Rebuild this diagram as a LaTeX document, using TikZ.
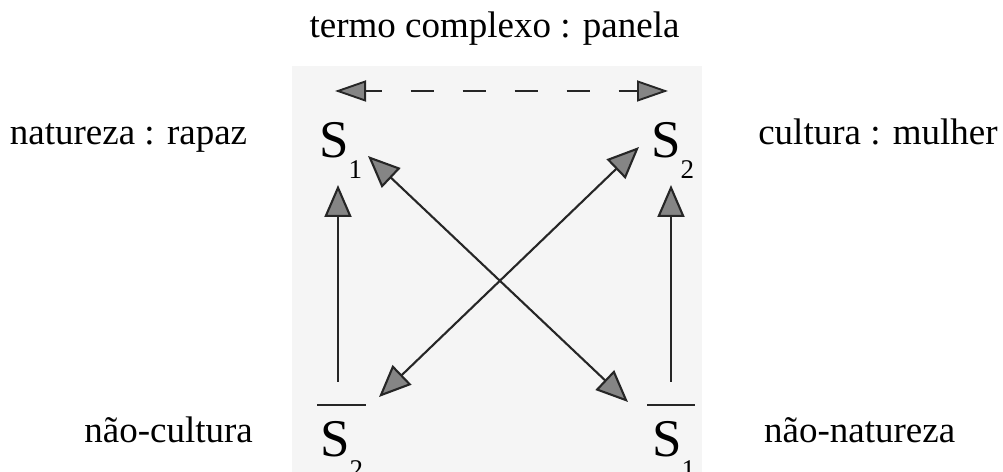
\documentclass[tikz,border=0pt]{standalone}
\usepackage{fontspec}
\setmainfont{Liberation Serif}
\usetikzlibrary{arrows.meta}
\newcommand{\lowsub}[2]{\raisebox{#1}{\fontsize{27bp}{30bp}\selectfont #2}}
\tikzset{
  lbl/.style={inner sep=0pt, font=\fontsize{37bp}{44bp}\selectfont},
  sym/.style={inner sep=0pt, anchor=base west, font=\fontsize{53bp}{60bp}\selectfont},
  tipbig/.tip={Triangle[length=32bp,width=27bp,fill=black!48]},
  tipdash/.tip={Triangle[length=31bp,width=21bp,fill=black!48]},
  conn/.style={line width=2.1bp, draw=black!85, -tipbig},
  conn2/.style={line width=2.1bp, draw=black!85, tipbig-tipbig},
  dashconn/.style={line width=1.9bp, draw=black!85, tipdash-tipdash, dash pattern=on 23bp off 29bp, dash phase=7bp},
  bar/.style={line width=1.8bp, draw=black!85},
  scan/.style={fill=black!4, draw=none}
}
\begin{document}
\begin{tikzpicture}[x=1bp,y=-1bp]
\useasboundingbox (0,0) rectangle (1003,472);
\fill[scan] (292,66) rectangle (702,472);
% labels
\node[lbl, anchor=base] (top) at (494.5,38) {termo complexo : panela};
\node[lbl, anchor=base] (nat) at (128.5,145) {natureza : rapaz};
\node[lbl, anchor=base] (cul) at (878,145) {cultura : mulher};
\node[lbl, anchor=base east] (ncul) at (253,442) {não-cultura};
\node[lbl, anchor=base west] (nnat) at (764,442) {não-natureza};
% symbols
\node[sym] (S1) at (319,158) {S\lowsub{-21bp}{1}};
\node[sym] (S2) at (651,158) {S\lowsub{-21bp}{2}};
\node[sym] (nS2) at (320,456) {S\lowsub{-22bp}{2}};
\node[sym] (nS1) at (652,456) {S\lowsub{-22bp}{1}};
% overlines
\draw[bar] ([shift={(-3,-51)}]nS2.base west) -- ([shift={(46,-51)}]nS2.base west);
\draw[bar] ([shift={(-5,-51)}]nS1.base west) -- ([shift={(43,-51)}]nS1.base west);
% connectors
\draw[dashconn] ([shift={(16,-67)}]S1.base west) -- ([shift={(17,-67)}]S2.base west);
\draw[conn] ([shift={(18,-74)}]nS2.base west) -- ([shift={(19,27)}]S1.base west);
\draw[conn] ([shift={(19,-74)}]nS1.base west) -- ([shift={(20,27)}]S2.base west);
\draw[conn2] ([shift={(49,-2)}]S1.base west) -- ([shift={(-24,-54)}]nS1.base west);
\draw[conn2] ([shift={(-12,-11)}]S2.base west) -- ([shift={(59,-59)}]nS2.base west);
\end{tikzpicture}
\end{document}
